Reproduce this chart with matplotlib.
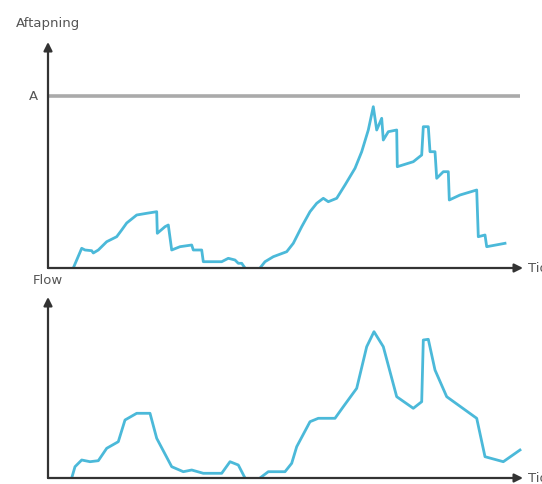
"""Aftapning og flow over tid - to skitsepaneler med pile-akser."""

import matplotlib
matplotlib.use('Agg')
import matplotlib.pyplot as plt

# Tid (x) og højde over nul-linjen (y)
tid_aftapning = [25.3, 33.7, 37, 43.7, 45.3, 50.3, 58.7, 68.7, 73.7, 78.7, 88.7,
                 98.7, 108.7, 109.3, 117, 120.3, 123.7, 132, 143.7, 145.3, 153.7,
                 155.3, 173.7, 180.3, 187, 190.3, 193.7, 197, None,
                 212, 217, 225.3, 238.7, 245.3, 253.7, 262, 268.7, 275.3, 280.3,
                 288.7, 297, 307, 313.7, 320.3, 325.3, 327, 328.7, 333.7, 335.3,
                 340.3, 348.7, 349.3, 365.3, 373.7, 375.3, 380.3, 382, 387, 388.7,
                 395.3, 400.3, 401.3, 412, 428.7, 430.3, 437, 438.7, 457]
aftapning = [0, 19.7, 18, 17.3, 15, 18, 26.3, 31.3, 38, 45, 53, 54.7, 56.3, 34.7,
             41.3, 43, 18, 21.3, 23, 18, 18, 6.3, 6.3, 9.7, 8, 4.7, 4.7, 0, None,
             0, 6.3, 11.3, 16.3, 24.7, 41.3, 56.3, 64.7, 69.7, 66.3, 69.7, 83,
             99.7, 116.3, 138, 161.3, 149.7, 138, 149.7, 128, 136.3, 138, 101.3,
             106.3, 113, 141.3, 141.3, 116.3, 116.3, 89.7, 96.3, 96.3, 68, 73,
             78, 31.3, 33, 21.3, 24.7]
niveau_A = 172

tid_flow = [23.7, 27, 33.7, 42, 50.3, 58.7, 70.3, 77, 88.7, 102, 108.7, 123.7,
            135.3, 143.7, 155.3, 173.7, 182, 190.3, 197, None,
            212, 220.3, 237, 243.7, 248.7, 262, 270.3, 287, 295.3, 308.7, 318.7,
            326, 335.3, 348.7, 365.3, 373.7, 375.3, 380.3, 387, 398.7, 428.7,
            437, 455.3, 472]
flow = [0, 11.3, 18, 16.3, 17.3, 29.7, 36.3, 58, 64.7, 64.7, 39.7, 11.3, 6.3,
        8, 4.7, 4.7, 16.3, 13, 0, None,
        0, 6.3, 6.3, 14.7, 31.3, 56.3, 59.7, 59.7, 71.3, 89.7, 131.3, 146.3,
        131.3, 81.3, 69.7, 76.3, 138, 138.7, 108, 81.3, 59.7, 21.3, 16.3, 28]

LINJEFARVE = '#4bb9d9'
AKSEFARVE = '#333333'
TEKSTFARVE = '#555555'


def _tegn_akser(ax, xmax, ymax, ylabel):
    ax.set_xlim(0, xmax)
    ax.set_ylim(0, ymax)
    ax.axis('off')
    pil = dict(arrowstyle='-|>,head_width=0.25,head_length=0.5',
               color=AKSEFARVE, lw=1.6, shrinkA=0, shrinkB=0)
    ax.annotate('', xy=(1, 0), xytext=(0, 0), xycoords='axes fraction',
                arrowprops=pil, annotation_clip=False)
    ax.annotate('', xy=(0, 1), xytext=(0, 0), xycoords='axes fraction',
                arrowprops=pil, annotation_clip=False)
    ax.text(1.01, 0, 'Tid', transform=ax.transAxes, ha='left', va='center',
            color=TEKSTFARVE, fontsize=9.5, clip_on=False)
    ax.text(0, 1.055, ylabel, transform=ax.transAxes, ha='center',
            va='bottom', color=TEKSTFARVE, fontsize=9.5, clip_on=False)


def _serie(tid, vaerdier):
    return [float('nan') if t is None else t for t in tid], \
           [float('nan') if v is None else v for v in vaerdier]


fig = plt.figure(figsize=(5.42, 4.84), dpi=100)
W, H = 542, 484

ax1 = fig.add_axes([48 / W, (H - 268) / H, 475 / W, 226 / H])
_tegn_akser(ax1, 475, 226, 'Aftapning')
ax1.plot([0, 472], [niveau_A, niveau_A], color='#aaaaaa', lw=2.6,
         solid_capstyle='butt')
ax1.text(-0.022, niveau_A, 'A', transform=ax1.get_yaxis_transform(),
         ha='right', va='center', color=TEKSTFARVE, fontsize=9.5)
ax1.plot(*_serie(tid_aftapning, aftapning), color=LINJEFARVE, lw=2.0)

ax2 = fig.add_axes([48 / W, (H - 478) / H, 475 / W, 181 / H])
_tegn_akser(ax2, 475, 181, 'Flow')
ax2.plot(*_serie(tid_flow, flow), color=LINJEFARVE, lw=2.0)

fig.savefig('out.png', dpi=100)
